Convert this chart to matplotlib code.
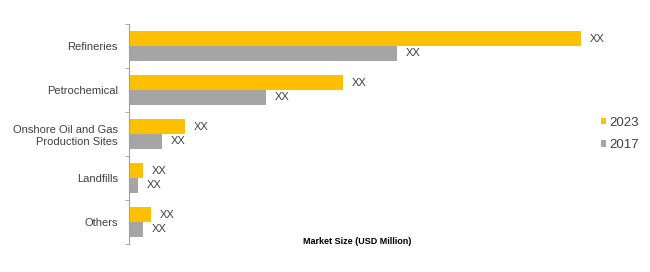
import matplotlib
matplotlib.use("Agg")
import matplotlib.pyplot as plt
import numpy as np

categories = ["Refineries", "Petrochemical", "Onshore Oil and Gas\nProduction Sites", "Landfills", "Others"]
values_2023 = [452, 214, 56, 14, 22]
values_2017 = [268, 137, 33, 9, 14]
bar_labels = ["XX"] * 5
series_names = ["2023", "2017"]

YELLOW = "#FFC000"
GRAY = "#A5A5A5"
TEXT = "#404040"

plt.rcParams['font.family'] = ['Liberation Sans', 'DejaVu Sans']

fig = plt.figure(figsize=(6.5, 2.72), dpi=100)
ax = fig.add_axes([129/650, 28/272, 470/650, 220/272])

y = np.arange(len(categories))
h = 0.34
b1 = ax.barh(y - h/2, values_2023, height=h, color=YELLOW, label=series_names[0])
b2 = ax.barh(y + h/2, values_2017, height=h, color=GRAY, label=series_names[1])

for bars, labels in ((b1, bar_labels), (b2, bar_labels)):
    for rect, lab in zip(bars, labels):
        ax.annotate(lab, (rect.get_width(), rect.get_y() + rect.get_height()/2),
                    xytext=(6, 0), textcoords="offset points", va="center", ha="left",
                    fontsize=8, color=TEXT)

ax.set_ylim(len(categories) - 0.5, -0.5)
ax.set_xlim(0, 470)
ax.set_yticks(y)
ax.set_yticklabels(categories, fontsize=8, color=TEXT)
ax.set_yticks(np.arange(len(categories) + 1) - 0.5, minor=True)
ax.tick_params(axis="y", which="major", length=0, pad=8)
ax.tick_params(axis="y", which="minor", length=3, color="#A0A0A0", direction="out")
ax.set_xticks([])
for s in ("top", "right", "bottom"):
    ax.spines[s].set_visible(False)
ax.spines["left"].set_color("#A0A0A0")
ax.spines["left"].set_linewidth(0.8)

fig.text(357/650, 1 - 242/272, "Market Size (USD Million)", ha="center", va="center",
         fontsize=6.5, fontweight="bold", color="black")

leg = fig.legend(handles=[b1, b2], labels=series_names, loc="center left",
                 bbox_to_anchor=(601/650, 1 - 134/272), frameon=False, fontsize=9.5,
                 handlelength=0.4, handleheight=0.4, handletextpad=0.25, labelspacing=0.8,
                 labelcolor=TEXT, borderpad=0, borderaxespad=0)

fig.savefig("out.png", dpi=100, facecolor="white")
